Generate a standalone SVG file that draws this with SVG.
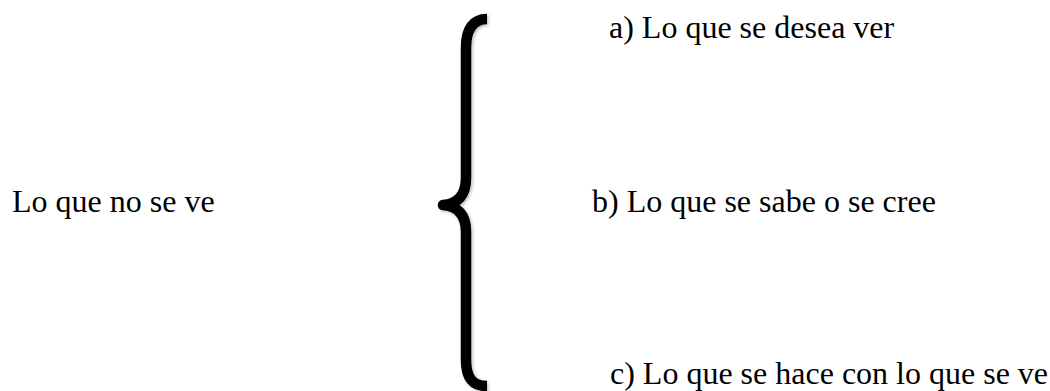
<svg xmlns="http://www.w3.org/2000/svg" width="1050" height="391" viewBox="0 0 1050 391">
<defs>
<filter id="sh" x="-20%" y="-5%" width="140%" height="110%">
<feDropShadow dx="1.5" dy="1.5" stdDeviation="1.5" flood-color="#000" flood-opacity="0.25"/>
</filter>
</defs>
<style>
.t{font-family:"Liberation Serif","Times New Roman",serif;font-size:32px;fill:#000}
.brace{fill:none;stroke:#000;stroke-width:10.5;stroke-linecap:butt;stroke-linejoin:round}
</style>
<rect width="1050" height="391" fill="#fff"/>
<g id="node-root"><text class="t" x="12" y="212">Lo que no se ve</text></g>
<g id="connectors"><path class="brace" filter="url(#sh)" d="M487 19 C473 19 466 29 466 48 L466 178 C466 195 458 204 443 205 C458 206 466 215 466 232 L466 360 C466 378 473 386 487 386"/></g>
<g id="node-a"><text class="t" x="609" y="38">a) Lo que se desea ver</text></g>
<g id="node-b"><text class="t" x="592" y="212">b) Lo que se sabe o se cree</text></g>
<g id="node-c"><text class="t" x="610" y="384">c) Lo que se hace con lo que se ve</text></g>
</svg>
